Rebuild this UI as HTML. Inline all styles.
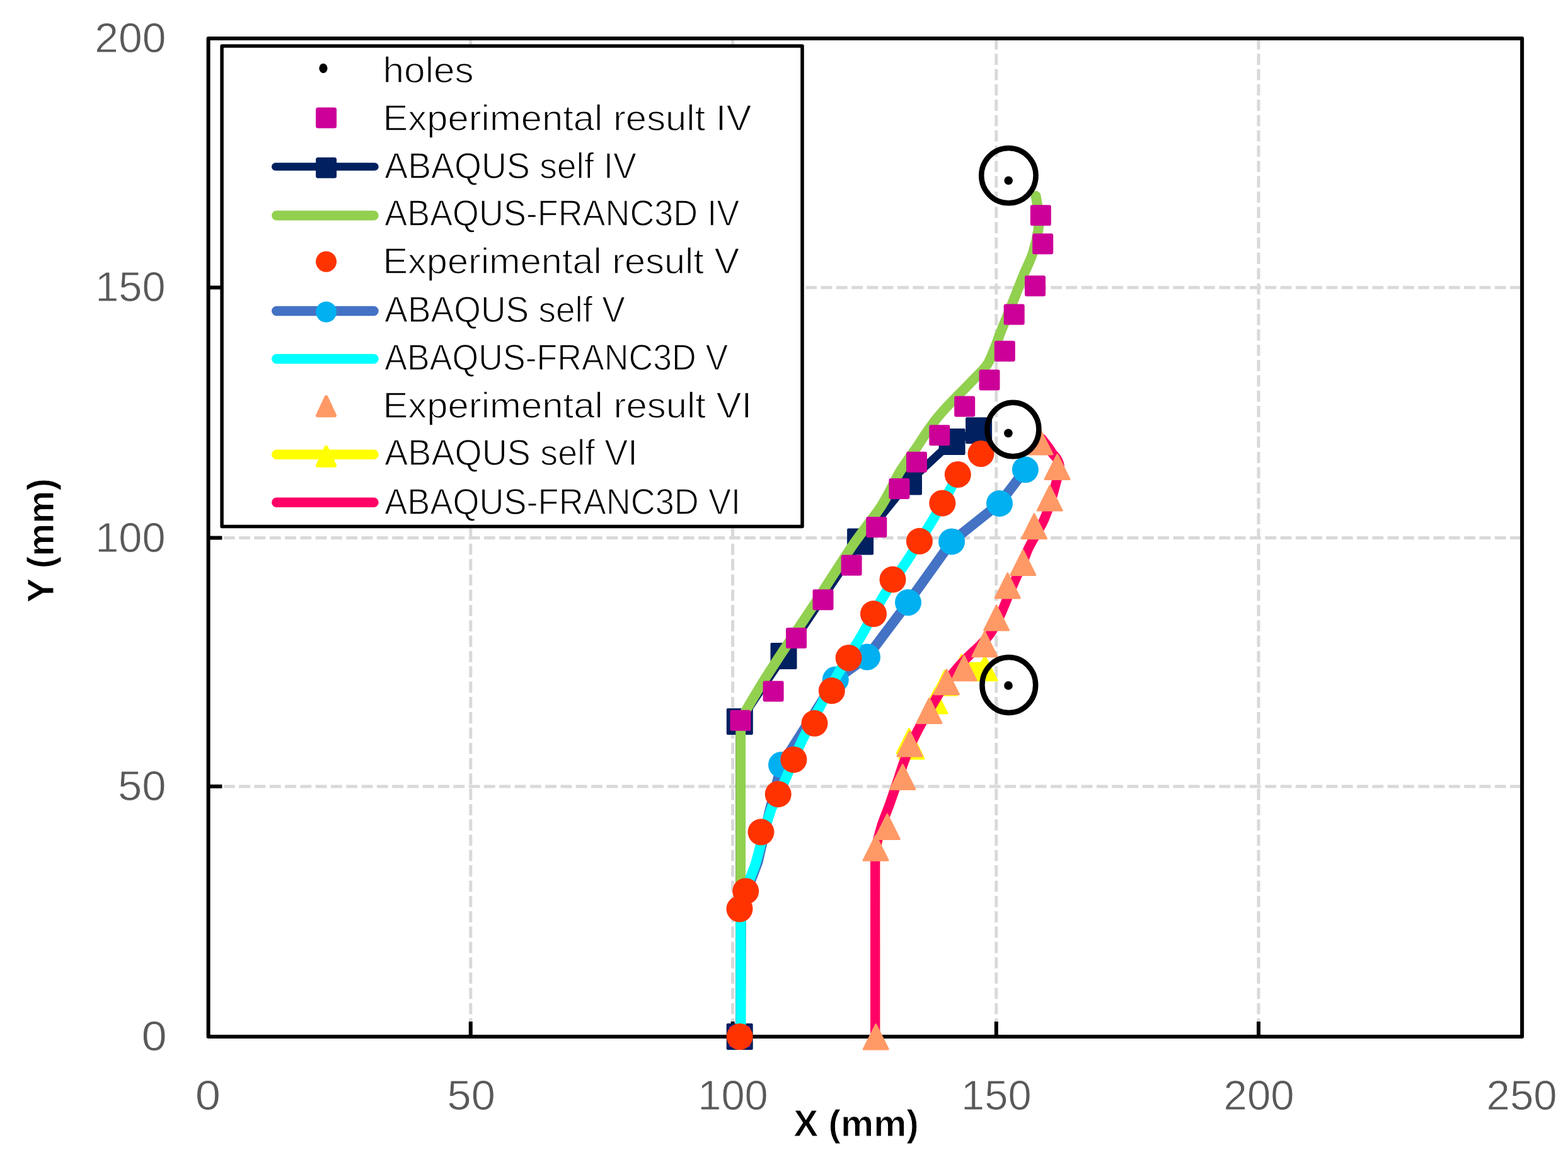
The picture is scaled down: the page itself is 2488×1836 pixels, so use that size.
<!DOCTYPE html>
<html lang="en"><head><meta charset="utf-8"><title>Crack paths: X (mm) vs Y (mm)</title>
<style>html,body{margin:0;padding:0;background:#fff}body{width:2488px;height:1836px;overflow:hidden}svg{display:block}text{font-family:"Liberation Sans",sans-serif}</style>
</head><body>
<svg width="2488" height="1836" viewBox="0 0 2488 1836">
<rect x="0" y="0" width="2488" height="1836" fill="#fff"/>
<g stroke="#D9D9D9" stroke-width="5" stroke-dasharray="17.8 6.5" fill="none">
<line x1="746.8" y1="60.9" x2="746.8" y2="1645.1"/>
<line x1="1162.6" y1="60.9" x2="1162.6" y2="1645.1"/>
<line x1="1580.8" y1="60.9" x2="1580.8" y2="1645.1"/>
<line x1="1997" y1="60.9" x2="1997" y2="1645.1"/>
<line x1="330.6" y1="1247.9" x2="2415.1" y2="1247.9"/>
<line x1="330.6" y1="853.5" x2="2415.1" y2="853.5"/>
<line x1="330.6" y1="456.3" x2="2415.1" y2="456.3"/>
</g>
<g stroke="#000" stroke-width="6" fill="none">
<line x1="746.8" y1="1645.1" x2="746.8" y2="1621.1"/>
<line x1="1162.6" y1="1645.1" x2="1162.6" y2="1621.1"/>
<line x1="1580.8" y1="1645.1" x2="1580.8" y2="1621.1"/>
<line x1="1997" y1="1645.1" x2="1997" y2="1621.1"/>
<line x1="330.6" y1="1247.9" x2="352.4" y2="1247.9"/>
<line x1="330.6" y1="853.5" x2="352.4" y2="853.5"/>
<line x1="330.6" y1="456.3" x2="352.4" y2="456.3"/>
</g>
<rect x="330.6" y="60.9" width="2084.5" height="1584.2" fill="none" stroke="#000" stroke-width="6" stroke-linejoin="round"/>
<g>
<path d="M1173.7 1645 L1173.8 1145 L1243.5 1041.1 L1365.1 859.4 L1442 764.5 L1510.6 701.1 L1553.1 683.2" fill="none" stroke="#002060" stroke-width="13" stroke-linecap="round" stroke-linejoin="round"/>
<rect x="1152.7" y="1624" width="42" height="42" rx="2" fill="#002060"/>
<rect x="1152.8" y="1124" width="42" height="42" rx="2" fill="#002060"/>
<rect x="1222.5" y="1020.1" width="42" height="42" rx="2" fill="#002060"/>
<rect x="1344.1" y="838.4" width="42" height="42" rx="2" fill="#002060"/>
<rect x="1421" y="743.5" width="42" height="42" rx="2" fill="#002060"/>
<rect x="1489.6" y="680.1" width="42" height="42" rx="2" fill="#002060"/>
<rect x="1532.1" y="662.2" width="42" height="42" rx="2" fill="#002060"/>
<path d="M1175.2 1645 C1175.2 1604.2 1175.2 1480.8 1175.2 1400 C1175.2 1319.2 1175.2 1202.8 1175.2 1160 C1175.2 1117.2 1170.4 1154.5 1175.4 1143 C1180.4 1131.5 1195.6 1107.1 1205.4 1090.8 C1215.2 1074.5 1224.3 1060.9 1234.4 1045.4 C1244.5 1029.9 1255.4 1013.9 1266 998 C1276.6 982.1 1288.2 965 1298 950 C1307.8 935 1316 921.8 1325 908 C1334 894.2 1343.4 879.3 1351.7 867.1 C1360 854.9 1367.3 845.6 1375 835 C1382.7 824.4 1391.7 813.3 1398 803.6 C1404.3 793.9 1408.1 786.1 1413 777 C1417.9 767.9 1422.9 757.1 1427.6 749.1 C1432.3 741.1 1436.6 735.4 1441 729 C1445.4 722.6 1449.3 717.6 1454 710.8 C1458.7 704 1463.8 695.6 1469 688 C1474.2 680.4 1479.8 672.4 1485.3 665.4 C1490.8 658.4 1496.5 652 1502 646 C1507.5 640 1511.7 636.1 1518.5 629.1 C1525.3 622.1 1535.1 612.4 1543 604 C1550.9 595.6 1560.3 587.4 1566.1 578.9 C1571.9 570.4 1574.2 562.1 1578 553 C1581.8 543.9 1585.1 533.8 1588.8 524.5 C1592.5 515.2 1596.5 505.8 1600 497 C1603.5 488.2 1606.1 481.9 1610 472 C1613.9 462.1 1618.6 449.6 1623.4 437.9 C1628.2 426.2 1634.8 413.8 1638.8 401.6 C1642.8 389.5 1646 375.3 1647.5 365 C1649 354.7 1648.3 347.2 1648 340 C1647.7 332.8 1646.2 326.8 1645.5 322 C1644.8 317.2 1643.9 312.8 1643.6 311" fill="none" stroke="#92D050" stroke-width="15.8" stroke-linecap="round" stroke-linejoin="round"/>
<path d="M1626.9 745.3 L1586 798.9 L1510.1 859.4 L1441 956 L1376 1042.5 L1325.8 1078.5 L1240 1213.7 L1220.5 1289 L1202.6 1368 L1185 1414 L1176 1442 L1175 1645" fill="none" stroke="#4472C4" stroke-width="15.8" stroke-linecap="round" stroke-linejoin="round"/>
<circle cx="1626.9" cy="745.3" r="21" fill="#00B0F0"/>
<circle cx="1586" cy="798.9" r="21" fill="#00B0F0"/>
<circle cx="1510.1" cy="859.4" r="21" fill="#00B0F0"/>
<circle cx="1441" cy="956" r="21" fill="#00B0F0"/>
<circle cx="1376" cy="1042.5" r="21" fill="#00B0F0"/>
<circle cx="1325.8" cy="1078.5" r="21" fill="#00B0F0"/>
<circle cx="1240" cy="1213.7" r="21" fill="#00B0F0"/>
<path d="M1175.5 1645 C1175.5 1629.2 1175.5 1580 1175.5 1550 C1175.5 1520 1175.2 1483.3 1175.5 1465 C1175.8 1446.7 1175.8 1448.5 1177 1440 C1178.2 1431.5 1180.3 1423 1183 1414 C1185.7 1405 1190.3 1393.9 1193.1 1386.2 C1195.9 1378.5 1196.4 1379 1199.6 1368 C1202.8 1357 1208.5 1333.6 1212.2 1320.4 C1216 1307.2 1219.7 1296.2 1222.1 1289 C1224.5 1281.8 1222.5 1286.3 1226.7 1277.2 C1230.9 1268.1 1239.6 1251.2 1247.1 1234.4 C1254.6 1217.6 1262.8 1195.6 1271.9 1176.6 C1281 1157.6 1291.8 1138.5 1301.5 1120.6 C1311.2 1102.7 1319 1087.6 1329.9 1069 C1340.8 1050.4 1354.6 1029.7 1366.7 1009 C1378.8 988.3 1390.3 965 1402.5 945 C1414.7 925 1427 908.8 1439.9 888.8 C1452.8 868.8 1468.3 844.4 1479.8 825.3 C1491.3 806.2 1502.2 786.4 1508.9 774.4 C1515.6 762.4 1518.2 756.6 1520 753" fill="none" stroke="#00FFFF" stroke-width="16" stroke-linecap="round" stroke-linejoin="round"/>
<path d="M1388.7 1645 L1388.7 1370 L1390 1346 L1399 1310 L1412 1275 L1424 1240 L1434 1210 L1446 1180 L1460 1152 L1474 1128 L1488 1104 L1503 1081 L1524 1059 L1562.7 1057.8" fill="none" stroke="#FFFF00" stroke-width="15" stroke-linecap="round" stroke-linejoin="round"/>
<path d="M1442.5 1156.5 L1462 1195.5 L1423 1195.5 Z" fill="#FFFF00" stroke="#FFFF00" stroke-width="3" stroke-linejoin="round"/>
<path d="M1446.5 1165 L1466 1204 L1427 1204 Z" fill="#FFFF00" stroke="#FFFF00" stroke-width="3" stroke-linejoin="round"/>
<path d="M1483.6 1093.1 L1503.1 1132.1 L1464.1 1132.1 Z" fill="#FFFF00" stroke="#FFFF00" stroke-width="3" stroke-linejoin="round"/>
<path d="M1499 1064.3 L1518.5 1103.3 L1479.5 1103.3 Z" fill="#FFFF00" stroke="#FFFF00" stroke-width="3" stroke-linejoin="round"/>
<path d="M1526 1039 L1545.5 1078 L1506.5 1078 Z" fill="#FFFF00" stroke="#FFFF00" stroke-width="3" stroke-linejoin="round"/>
<path d="M1562.7 1040.8 L1582.2 1079.8 L1543.2 1079.8 Z" fill="#FFFF00" stroke="#FFFF00" stroke-width="3" stroke-linejoin="round"/>
<rect x="1538" y="1058" width="14" height="22" fill="#FFFF00"/>
<path d="M1388.7 1645 C1388.7 1620.8 1388.7 1545.8 1388.7 1500 C1388.7 1454.2 1388.5 1395.7 1388.7 1370 C1388.9 1344.3 1388.3 1356 1390 1346 C1391.7 1336 1395.3 1321.8 1399 1310 C1402.7 1298.2 1407.8 1286.7 1412 1275 C1416.2 1263.3 1420.3 1250.8 1424 1240 C1427.7 1229.2 1430.3 1220 1434 1210 C1437.7 1200 1441.7 1189.7 1446 1180 C1450.3 1170.3 1455.3 1160.7 1460 1152 C1464.7 1143.3 1469.3 1136 1474 1128 C1478.7 1120 1483.2 1112 1488 1104 C1492.8 1096 1497.8 1087.3 1503 1080 C1508.2 1072.7 1513.3 1066.5 1519 1060 C1524.7 1053.5 1531 1047 1537 1041 C1543 1035 1549.3 1029.8 1555 1024 C1560.7 1018.2 1566.3 1012.5 1571 1006 C1575.7 999.5 1579.5 991.8 1583 985 C1586.5 978.2 1589 972 1592 965 C1595 958 1597.8 950.5 1601 943 C1604.2 935.5 1607.5 928 1611 920 C1614.5 912 1618.5 903.3 1622 895 C1625.5 886.7 1628.3 877.8 1632 870 C1635.7 862.2 1640 855.3 1644 848 C1648 840.7 1652.3 834 1656 826 C1659.7 818 1663.2 808 1666 800 C1668.8 792 1670.8 784.2 1672.5 778 C1674.2 771.8 1675.2 767.7 1676.5 763 C1677.8 758.3 1679.2 754.2 1680 750 C1680.8 745.8 1681.5 741.7 1681 738 C1680.5 734.3 1678.8 731.1 1677 728 C1675.2 724.9 1672.3 722.7 1670 719.5 C1667.7 716.3 1665.3 712.2 1663 709 C1660.7 705.8 1657.7 702.2 1656 700 C1654.3 697.8 1653.5 696.7 1653 696" fill="none" stroke="#FF0066" stroke-width="15.3" stroke-linecap="round" stroke-linejoin="round"/>
<rect x="1634.8" y="325.2" width="33" height="33" rx="3" fill="#CC0099"/>
<rect x="1638.2" y="370.5" width="33" height="33" rx="3" fill="#CC0099"/>
<rect x="1626" y="437.3" width="33" height="33" rx="3" fill="#CC0099"/>
<rect x="1592.7" y="482.6" width="33" height="33" rx="3" fill="#CC0099"/>
<rect x="1577.8" y="540.7" width="33" height="33" rx="3" fill="#CC0099"/>
<rect x="1553.5" y="586.5" width="33" height="33" rx="3" fill="#CC0099"/>
<rect x="1514.2" y="628.5" width="33" height="33" rx="3" fill="#CC0099"/>
<rect x="1474.3" y="674.3" width="33" height="33" rx="3" fill="#CC0099"/>
<rect x="1438" y="716.8" width="33" height="33" rx="3" fill="#CC0099"/>
<rect x="1410.4" y="758.9" width="33" height="33" rx="3" fill="#CC0099"/>
<rect x="1374.3" y="820" width="33" height="33" rx="3" fill="#CC0099"/>
<rect x="1334.6" y="880.5" width="33" height="33" rx="3" fill="#CC0099"/>
<rect x="1289.5" y="935.3" width="33" height="33" rx="3" fill="#CC0099"/>
<rect x="1247" y="996" width="33" height="33" rx="3" fill="#CC0099"/>
<rect x="1210.6" y="1080.6" width="33" height="33" rx="3" fill="#CC0099"/>
<rect x="1158.4" y="1126.8" width="33" height="33" rx="3" fill="#CC0099"/>
<rect x="1157.2" y="1628.5" width="33" height="33" rx="3" fill="#CC0099"/>
<circle cx="1556.5" cy="720" r="21" fill="#FF3300"/>
<circle cx="1519.8" cy="753" r="21" fill="#FF3300"/>
<circle cx="1495.3" cy="798.4" r="21" fill="#FF3300"/>
<circle cx="1458.9" cy="858.8" r="21" fill="#FF3300"/>
<circle cx="1416.5" cy="919.6" r="21" fill="#FF3300"/>
<circle cx="1386" cy="974.1" r="21" fill="#FF3300"/>
<circle cx="1346.6" cy="1044" r="21" fill="#FF3300"/>
<circle cx="1319.8" cy="1096.1" r="21" fill="#FF3300"/>
<circle cx="1292.5" cy="1147.8" r="21" fill="#FF3300"/>
<circle cx="1259.4" cy="1205.4" r="21" fill="#FF3300"/>
<circle cx="1234.7" cy="1260.2" r="21" fill="#FF3300"/>
<circle cx="1207.5" cy="1320.3" r="21" fill="#FF3300"/>
<circle cx="1183.2" cy="1414.2" r="21" fill="#FF3300"/>
<circle cx="1173.5" cy="1442.3" r="21" fill="#FF3300"/>
<circle cx="1173.7" cy="1645" r="21" fill="#FF3300"/>
<path d="M1650.6 682.1 L1670.1 721.1 L1631.1 721.1 Z" fill="#FF9966" stroke="#FF9966" stroke-width="3" stroke-linejoin="round"/>
<path d="M1677.6 721.5 L1697.1 760.5 L1658.1 760.5 Z" fill="#FF9966" stroke="#FF9966" stroke-width="3" stroke-linejoin="round"/>
<path d="M1665.7 771.1 L1685.2 810.1 L1646.2 810.1 Z" fill="#FF9966" stroke="#FF9966" stroke-width="3" stroke-linejoin="round"/>
<path d="M1641 815.6 L1660.5 854.6 L1621.5 854.6 Z" fill="#FF9966" stroke="#FF9966" stroke-width="3" stroke-linejoin="round"/>
<path d="M1623.3 873.4 L1642.8 912.4 L1603.8 912.4 Z" fill="#FF9966" stroke="#FF9966" stroke-width="3" stroke-linejoin="round"/>
<path d="M1598.8 909.9 L1618.3 948.9 L1579.3 948.9 Z" fill="#FF9966" stroke="#FF9966" stroke-width="3" stroke-linejoin="round"/>
<path d="M1581.1 961.1 L1600.6 1000.1 L1561.6 1000.1 Z" fill="#FF9966" stroke="#FF9966" stroke-width="3" stroke-linejoin="round"/>
<path d="M1562.4 1002.7 L1581.9 1041.7 L1542.9 1041.7 Z" fill="#FF9966" stroke="#FF9966" stroke-width="3" stroke-linejoin="round"/>
<path d="M1529.7 1040.8 L1549.2 1079.8 L1510.2 1079.8 Z" fill="#FF9966" stroke="#FF9966" stroke-width="3" stroke-linejoin="round"/>
<path d="M1502 1062.8 L1521.5 1101.8 L1482.5 1101.8 Z" fill="#FF9966" stroke="#FF9966" stroke-width="3" stroke-linejoin="round"/>
<path d="M1474.4 1108.5 L1493.9 1147.5 L1454.9 1147.5 Z" fill="#FF9966" stroke="#FF9966" stroke-width="3" stroke-linejoin="round"/>
<path d="M1443.5 1160.9 L1463 1199.9 L1424 1199.9 Z" fill="#FF9966" stroke="#FF9966" stroke-width="3" stroke-linejoin="round"/>
<path d="M1432.3 1213.5 L1451.8 1252.5 L1412.8 1252.5 Z" fill="#FF9966" stroke="#FF9966" stroke-width="3" stroke-linejoin="round"/>
<path d="M1407.8 1292.4 L1427.3 1331.4 L1388.3 1331.4 Z" fill="#FF9966" stroke="#FF9966" stroke-width="3" stroke-linejoin="round"/>
<path d="M1389.6 1326.2 L1409.1 1365.2 L1370.1 1365.2 Z" fill="#FF9966" stroke="#FF9966" stroke-width="3" stroke-linejoin="round"/>
<path d="M1389.8 1625.9 L1409.3 1664.9 L1370.3 1664.9 Z" fill="#FF9966" stroke="#FF9966" stroke-width="3" stroke-linejoin="round"/>
<ellipse cx="1600.4" cy="278.6" rx="43.2" ry="43.6" fill="none" stroke="#000" stroke-width="8.5"/>
<ellipse cx="1607.4" cy="681.5" rx="41" ry="42.7" fill="none" stroke="#000" stroke-width="8.5"/>
<ellipse cx="1600.8" cy="1087" rx="42.4" ry="44" fill="none" stroke="#000" stroke-width="8.5"/>
<circle cx="1600.2" cy="286.5" r="6.8" fill="#000"/>
<circle cx="1599.9" cy="687.4" r="6.8" fill="#000"/>
<circle cx="1600" cy="1087.9" r="6.8" fill="#000"/>
</g>
<rect x="352.1" y="72.9" width="920.9" height="762.7" fill="#fff" stroke="#000" stroke-width="5.5" stroke-linejoin="round"/>
<ellipse cx="513" cy="108.3" rx="6.6" ry="7.6" fill="#000"/>
<text x="607.5" y="131.3" font-size="58" fill="#000" stroke="#fff" stroke-width="1.3" paint-order="fill stroke" textLength="144.3" lengthAdjust="spacingAndGlyphs">holes</text>
<rect x="501.1" y="170.6" width="33" height="33" rx="3.5" fill="#CC0099"/>
<text x="607.4" y="206.6" font-size="58" fill="#000" stroke="#fff" stroke-width="1.3" paint-order="fill stroke" textLength="584.9" lengthAdjust="spacingAndGlyphs">Experimental result IV</text>
<line x1="437.2" y1="264.6" x2="594.5" y2="264.6" stroke="#002060" stroke-width="12.5" stroke-linecap="round"/>
<rect x="501.1" y="249.7" width="33" height="33" rx="3.5" fill="#002060"/>
<text x="610.3" y="282.9" font-size="58" fill="#000" stroke="#fff" stroke-width="1.3" paint-order="fill stroke" textLength="399.6" lengthAdjust="spacingAndGlyphs">ABAQUS self IV</text>
<line x1="438.8" y1="342" x2="593" y2="342" stroke="#92D050" stroke-width="15.5" stroke-linecap="round"/>
<text x="610.3" y="358.3" font-size="58" fill="#000" stroke="#fff" stroke-width="1.3" paint-order="fill stroke" textLength="562.8" lengthAdjust="spacingAndGlyphs">ABAQUS-FRANC3D IV</text>
<circle cx="517.6" cy="415.2" r="16.5" fill="#FF3300"/>
<text x="607.4" y="434.3" font-size="58" fill="#000" stroke="#fff" stroke-width="1.3" paint-order="fill stroke" textLength="565.7" lengthAdjust="spacingAndGlyphs">Experimental result V</text>
<line x1="438.8" y1="493.4" x2="593" y2="493.4" stroke="#4472C4" stroke-width="15.5" stroke-linecap="round"/>
<circle cx="517.6" cy="495" r="16.5" fill="#00B0F0"/>
<text x="610.3" y="510.5" font-size="58" fill="#000" stroke="#fff" stroke-width="1.3" paint-order="fill stroke" textLength="381.5" lengthAdjust="spacingAndGlyphs">ABAQUS self V</text>
<line x1="438.8" y1="569.6" x2="593" y2="569.6" stroke="#00FFFF" stroke-width="15.5" stroke-linecap="round"/>
<text x="610.3" y="586.6" font-size="58" fill="#000" stroke="#fff" stroke-width="1.3" paint-order="fill stroke" textLength="545" lengthAdjust="spacingAndGlyphs">ABAQUS-FRANC3D V</text>
<path d="M517.6 630.2 L531.1 659.2 L504.1 659.2 Z" fill="#FF9966" stroke="#FF9966" stroke-width="6" stroke-linejoin="round"/>
<text x="607.4" y="662.8" font-size="58" fill="#000" stroke="#fff" stroke-width="1.3" paint-order="fill stroke" textLength="585.7" lengthAdjust="spacingAndGlyphs">Experimental result VI</text>
<line x1="438.8" y1="721.3" x2="593" y2="721.3" stroke="#FFFF00" stroke-width="15.5" stroke-linecap="round"/>
<path d="M517.6 709.7 L531.1 738.7 L504.1 738.7 Z" fill="#FFFF00" stroke="#FFFF00" stroke-width="6" stroke-linejoin="round"/>
<text x="610.3" y="738.3" font-size="58" fill="#000" stroke="#fff" stroke-width="1.3" paint-order="fill stroke" textLength="401.5" lengthAdjust="spacingAndGlyphs">ABAQUS self VI</text>
<line x1="438.8" y1="797.2" x2="593" y2="797.2" stroke="#FF0066" stroke-width="15.5" stroke-linecap="round"/>
<text x="610.3" y="816" font-size="58" fill="#000" stroke="#fff" stroke-width="1.3" paint-order="fill stroke" textLength="564.7" lengthAdjust="spacingAndGlyphs">ABAQUS-FRANC3D VI</text>
<text x="329.8" y="1760.9" font-size="65.8" fill="#595959" stroke="#fff" stroke-width="0.8" paint-order="fill stroke" text-anchor="middle" textLength="40.3" lengthAdjust="spacingAndGlyphs">0</text>
<text x="747.7" y="1760.9" font-size="65.8" fill="#595959" stroke="#fff" stroke-width="0.8" paint-order="fill stroke" text-anchor="middle" textLength="76.4" lengthAdjust="spacingAndGlyphs">50</text>
<text x="1163" y="1760.9" font-size="65.8" fill="#595959" stroke="#fff" stroke-width="0.8" paint-order="fill stroke" text-anchor="middle" textLength="111.6" lengthAdjust="spacingAndGlyphs">100</text>
<text x="1580.8" y="1760.9" font-size="65.8" fill="#595959" stroke="#fff" stroke-width="0.8" paint-order="fill stroke" text-anchor="middle" textLength="111.6" lengthAdjust="spacingAndGlyphs">150</text>
<text x="1997.6" y="1760.9" font-size="65.8" fill="#595959" stroke="#fff" stroke-width="0.8" paint-order="fill stroke" text-anchor="middle" textLength="112" lengthAdjust="spacingAndGlyphs">200</text>
<text x="2414.6" y="1760.9" font-size="65.8" fill="#595959" stroke="#fff" stroke-width="0.8" paint-order="fill stroke" text-anchor="middle" textLength="112" lengthAdjust="spacingAndGlyphs">250</text>
<text x="263.5" y="82.8" font-size="65.8" fill="#595959" stroke="#fff" stroke-width="0.8" paint-order="fill stroke" text-anchor="end" textLength="113.2" lengthAdjust="spacingAndGlyphs">200</text>
<text x="262.6" y="478" font-size="65.8" fill="#595959" stroke="#fff" stroke-width="0.8" paint-order="fill stroke" text-anchor="end" textLength="111.4" lengthAdjust="spacingAndGlyphs">150</text>
<text x="262.6" y="875.5" font-size="65.8" fill="#595959" stroke="#fff" stroke-width="0.8" paint-order="fill stroke" text-anchor="end" textLength="111.4" lengthAdjust="spacingAndGlyphs">100</text>
<text x="263.5" y="1269.8" font-size="65.8" fill="#595959" stroke="#fff" stroke-width="0.8" paint-order="fill stroke" text-anchor="end" textLength="76.6" lengthAdjust="spacingAndGlyphs">50</text>
<text x="264.9" y="1666.5" font-size="65.8" fill="#595959" stroke="#fff" stroke-width="0.8" paint-order="fill stroke" text-anchor="end" textLength="40.3" lengthAdjust="spacingAndGlyphs">0</text>
<text x="1358.5" y="1803.3" font-size="59.5" font-weight="bold" fill="#000" stroke="#fff" stroke-width="1" paint-order="fill stroke" text-anchor="middle" textLength="198.6" lengthAdjust="spacingAndGlyphs">X (mm)</text>
<text transform="translate(84.9 857.8) rotate(-90)" font-size="59.5" font-weight="bold" fill="#000" stroke="#fff" stroke-width="1" paint-order="fill stroke" text-anchor="middle" textLength="197.6" lengthAdjust="spacingAndGlyphs">Y (mm)</text>
</svg>
</body></html>
